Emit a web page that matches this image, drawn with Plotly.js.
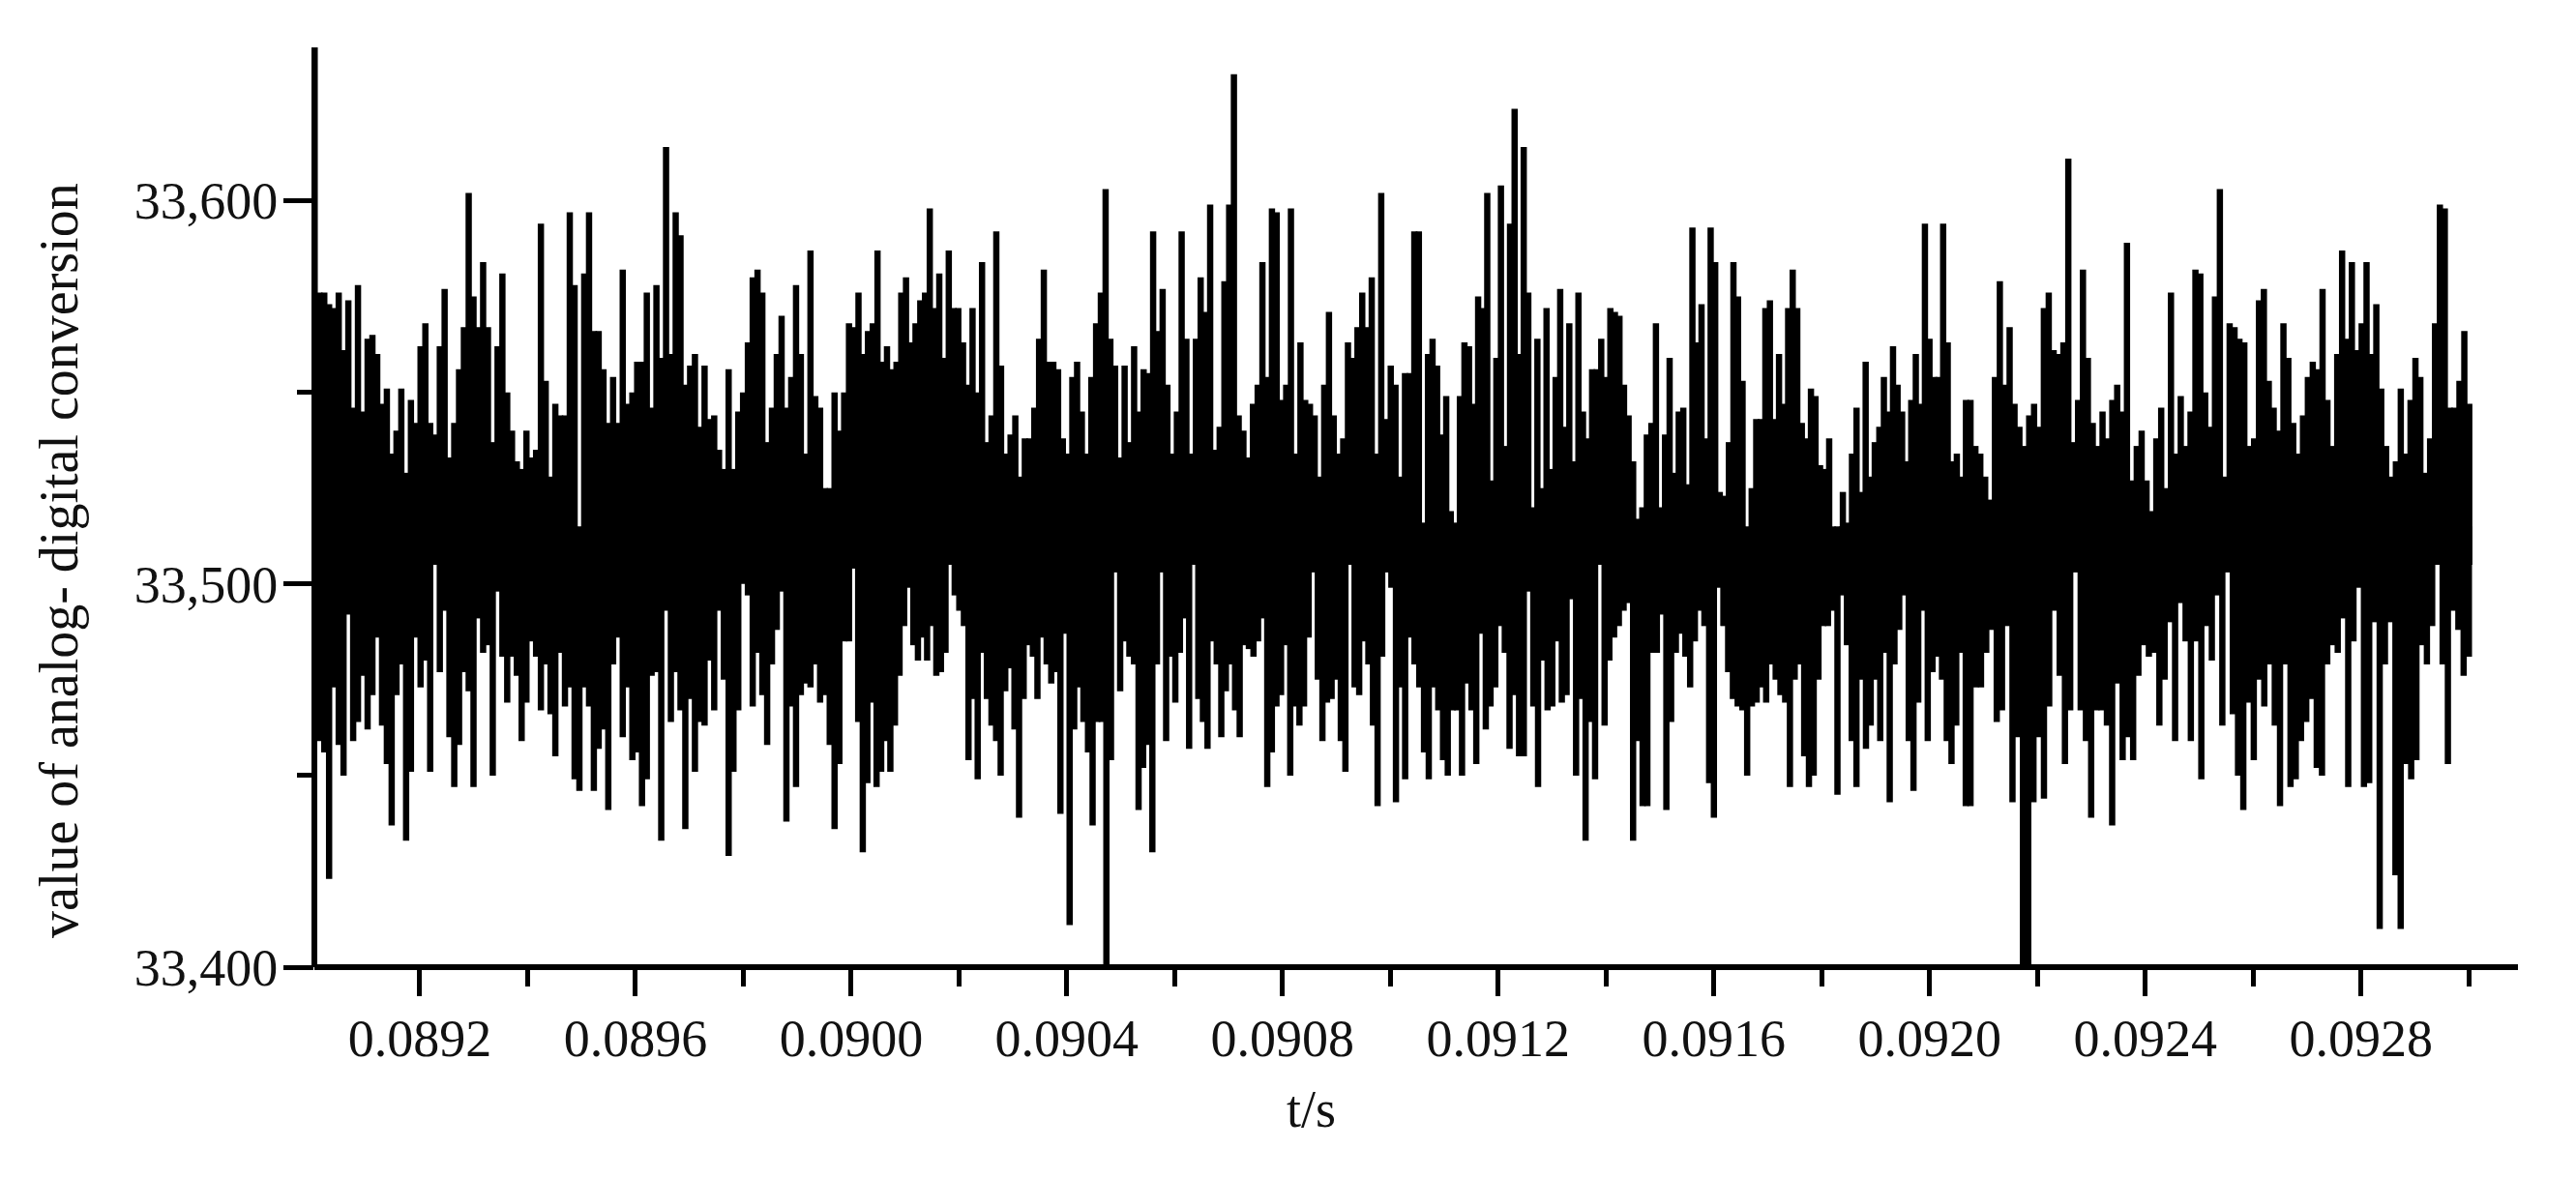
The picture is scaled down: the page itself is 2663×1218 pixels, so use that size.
<!DOCTYPE html>
<html>
<head>
<meta charset="utf-8">
<script src="https://cdn.plot.ly/plotly-3.0.1.min.js"></script>
<style>
  html, body { margin: 0; padding: 0; background: #fff; }
</style>
</head>
<body>
<div id="signalPlot" style="width:2663px;height:1218px"></div>
<script>
// times where each stretch of the trace begins and ends (s)
const stretchEdges = [0.089005, 0.089996, 0.091036, 0.092076, 0.09301]

// upper envelope of the converted value
const upperA = [33640,33576,33576,33573,33572,33576,33561,33574,33546,33578,33545,33564,33565,33560,33547,33551,33534,33540,33551,33529,33548,33542,33562,33568,33542,33539,33562,33577,33533,33542,33556,33567,33602,33575,33567,33584,33567,33537,33562,33581,33550,33540,33532,33530,33540,33533,33535,33594,33553,33528,33547,33544,33544,33597,33578,33508,33581,33597,33566,33566,33556,33542,33554,33542,33582,33547,33550,33558,33558,33576,33546,33578,33559,33614,33560,33597,33591,33552,33557,33560,33541,33557,33543,33544,33535,33530,33556,33530,33545,33550,33563,33580,33582,33576,33537,33546,33560,33570,33546,33554,33578,33560,33534,33587,33549,33546,33525,33525,33550,33540,33550]
const upperB = [33568,33567,33576,33560,33566,33568,33587,33558,33562,33556,33558,33576,33580,33563,33568,33574,33576,33598,33572,33581,33559,33587,33572,33572,33563,33552,33572,33550,33584,33537,33544,33592,33557,33534,33539,33544,33528,33538,33538,33546,33564,33582,33558,33558,33556,33538,33534,33554,33558,33545,33534,33554,33568,33576,33603,33564,33557,33533,33557,33537,33562,33545,33556,33555,33592,33566,33577,33552,33534,33545,33592,33564,33534,33564,33580,33571,33599,33535,33541,33579,33599,33633,33544,33540,33533,33547,33552,33584,33554,33598,33597,33548,33552,33598,33534,33563,33548,33547,33544,33528,33552,33571,33544,33534,33538,33563,33559,33567,33576,33567,33580,33534,33602,33543,33557,33552,33528,33555]
const upperC = [33555,33592,33592,33516,33560,33564,33557,33539,33549,33519,33516,33549,33563,33562,33547,33575,33572,33602,33527,33559,33604,33536,33594,33624,33560,33614,33576,33520,33564,33525,33572,33530,33554,33577,33541,33568,33532,33576,33545,33538,33556,33556,33564,33554,33572,33571,33570,33552,33544,33532,33517,33520,33539,33542,33568,33520,33539,33559,33529,33545,33546,33526,33593,33563,33573,33538,33593,33584,33524,33523,33537,33584,33575,33553,33513,33525,33543,33543,33572,33574,33543,33560,33547,33572,33582,33572,33542,33538,33551,33549,33531,33530,33538,33512,33511,33524,33516,33534,33546,33524,33558,33528,33537,33541,33554,33545,33562,33552,33545,33532,33548,33560,33547,33594,33564,33554,33554,33594,33563,33532,33534,33528,33548]
const upperD = [33548,33536,33534,33528,33522,33554,33579,33552,33567,33547,33541,33536,33544,33547,33541,33572,33576,33561,33560,33563,33611,33537,33548,33582,33559,33542,33536,33545,33538,33548,33552,33545,33589,33527,33536,33540,33527,33519,33538,33546,33525,33576,33534,33549,33536,33545,33582,33581,33550,33541,33575,33603,33528,33568,33567,33564,33563,33536,33538,33574,33577,33553,33546,33540,33568,33559,33542,33534,33544,33554,33558,33556,33577,33548,33536,33560,33587,33564,33584,33561,33568,33584,33560,33573,33551,33536,33528,33532,33551,33534,33548,33559,33554,33529,33538,33568,33599,33598,33546,33546,33553,33566,33547]

// lower envelope, same stretches
const lowerA = [33467,33459,33456,33423,33473,33458,33450,33492,33459,33464,33476,33462,33471,33486,33463,33453,33437,33471,33479,33433,33451,33486,33473,33480,33451,33505,33477,33493,33460,33447,33458,33477,33472,33447,33491,33482,33484,33450,33498,33481,33469,33481,33476,33459,33469,33485,33481,33467,33479,33466,33455,33482,33468,33473,33449,33446,33473,33468,33446,33457,33462,33441,33479,33486,33460,33473,33454,33456,33442,33449,33476,33477,33433,33493,33464,33477,33467,33436,33470,33451,33464,33463,33480,33467,33493,33475,33429,33451,33467,33500,33497,33468,33482,33471,33458,33479,33488,33498,33438,33468,33447,33471,33474,33473,33479,33469,33471,33458,33436,33453,33485]
const lowerB = [33485,33504,33464,33430,33448,33469,33447,33451,33459,33451,33463,33476,33489,33499,33484,33480,33486,33480,33489,33476,33477,33482,33512,33497,33493,33489,33454,33470,33449,33482,33470,33463,33459,33450,33472,33478,33462,33439,33470,33484,33481,33470,33486,33479,33474,33477,33440,33487,33411,33462,33473,33464,33456,33437,33464,33464,33400,33454,33503,33472,33485,33481,33479,33441,33452,33458,33430,33479,33503,33459,33481,33469,33482,33491,33457,33509,33470,33464,33457,33485,33479,33460,33472,33479,33467,33460,33484,33483,33481,33485,33491,33447,33456,33468,33471,33484,33450,33468,33463,33468,33486,33503,33475,33459,33469,33470,33475,33459,33451,33506,33473,33471,33485,33479,33463,33442,33481,33503,33499,33443,33473,33449]
const lowerC = [33486,33479,33473,33456,33449,33473,33467,33454,33450,33467,33467,33450,33474,33467,33453,33487,33462,33468,33473,33489,33482,33457,33471,33455,33455,33498,33468,33447,33480,33467,33468,33485,33469,33471,33496,33450,33470,33433,33464,33449,33505,33463,33480,33486,33489,33493,33495,33433,33459,33442,33442,33482,33482,33492,33441,33464,33482,33487,33481,33473,33485,33493,33489,33448,33439,33499,33489,33477,33470,33468,33467,33450,33468,33469,33473,33469,33479,33475,33471,33469,33447,33475,33479,33455,33447,33450,33475,33489,33489,33493,33445,33497,33484,33459,33447,33475,33457,33463,33475,33459,33482,33443,33479,33488,33497,33459,33446,33469,33493,33459,33477,33481,33475,33459,33453,33463,33482,33442]
const lowerD = [33442,33473,33473,33482,33488,33464,33467,33489,33443,33460,33400,33400,33443,33460,33444,33468,33493,33476,33453,33467,33503,33467,33459,33439,33467,33467,33463,33437,33474,33454,33460,33454,33476,33484,33481,33482,33463,33475,33490,33459,33495,33485,33459,33485,33449,33489,33480,33497,33463,33503,33466,33450,33441,33469,33454,33475,33468,33479,33463,33442,33479,33447,33449,33459,33464,33470,33452,33450,33479,33484,33482,33491,33447,33485,33499,33447,33448,33490,33410,33479,33490,33424,33410,33453,33449,33454,33484,33479,33489,33506,33479,33453,33493,33488,33476,33481]

const upperStretches = [upperA, upperB, upperC, upperD]
const lowerStretches = [lowerA, lowerB, lowerC, lowerD]

// the upper and lower strokes overlap around here so the band stays solid
const upperCore = 33505
const lowerCore = 33515

const majorTimes = [0.0892, 0.0896, 0.0900, 0.0904, 0.0908, 0.0912, 0.0916, 0.0920, 0.0924, 0.0928]
const majorValues = [33400, 33500, 33600]

// one vertical stroke per sample, from the core of the band out to the envelope
const buildStrokes = (stretches, core) => {
  const x = []
  const y = []
  stretches.forEach((values, s) => {
    const step = (stretchEdges[s + 1] - stretchEdges[s]) / values.length
    values.forEach((value, i) => {
      const t = stretchEdges[s] + i * step
      x.push(t, t, null)
      y.push(core, value, null)
    })
  })
  return { x, y }
}

const strokeStyle = {
  type: 'scatter',
  mode: 'lines',
  line: { color: '#000000', width: 6.5 },
  cliponaxis: false,
  showlegend: false,
  hoverinfo: 'skip'
}

const data = [
  { ...buildStrokes(upperStretches, upperCore), ...strokeStyle },
  { ...buildStrokes(lowerStretches, lowerCore), ...strokeStyle }
]

const tickFont = { family: 'Liberation Serif', size: 54, color: '#111111' }
const axisLine = { color: '#000000', width: 6 }

const layout = {
  width: 2663,
  height: 1218,
  margin: { l: 325, r: 60, t: 49, b: 218, pad: 0 },
  paper_bgcolor: '#ffffff',
  plot_bgcolor: '#ffffff',
  showlegend: false,
  xaxis: {
    range: [0.0890045, 0.0930913],
    tickvals: majorTimes,
    tickformat: '.4f',
    ticks: 'outside',
    ticklen: 29,
    tickwidth: 5,
    tickcolor: '#000000',
    ticklabelstandoff: -3,
    minor: { dtick: 0.0002, tick0: 0.0890, ticks: 'outside', ticklen: 19, tickwidth: 5, tickcolor: '#000000', showgrid: false },
    showgrid: false,
    zeroline: false,
    tickfont: tickFont
  },
  yaxis: {
    range: [33400, 33640],
    tickvals: majorValues,
    tickformat: ',d',
    ticks: 'outside',
    ticklen: 31,
    tickwidth: 5,
    tickcolor: '#000000',
    ticklabelstandoff: -5,
    minor: { dtick: 50, tick0: 33400, ticks: 'outside', ticklen: 17, tickwidth: 5, tickcolor: '#000000', showgrid: false },
    showgrid: false,
    zeroline: false,
    tickfont: tickFont
  },
  // axis lines sit exactly on the zero of the scales, like the original
  shapes: [
    { type: 'line', xref: 'paper', yref: 'paper', x0: 0, x1: 1, y0: 0, y1: 0, line: axisLine },
    { type: 'line', xref: 'paper', yref: 'paper', x0: 0, x1: 0, y0: 0, y1: 1, line: axisLine }
  ],
  annotations: [
    {
      text: 't/s',
      xref: 'paper', yref: 'paper',
      x: (1355 - 325) / 2278, y: -0.155,
      xanchor: 'center', yanchor: 'middle',
      showarrow: false,
      font: { family: 'Liberation Serif', size: 54, color: '#111111' }
    },
    {
      text: 'value of analog- digital conversion',
      xref: 'paper', yref: 'paper',
      x: (61 - 325) / 2278, y: (1000 - 580) / 951,
      xanchor: 'center', yanchor: 'middle',
      textangle: -90,
      showarrow: false,
      font: { family: 'Liberation Serif', size: 56, color: '#111111' }
    }
  ]
}

Plotly.newPlot('signalPlot', data, layout, { displayModeBar: false })
</script>
</body>
</html>
